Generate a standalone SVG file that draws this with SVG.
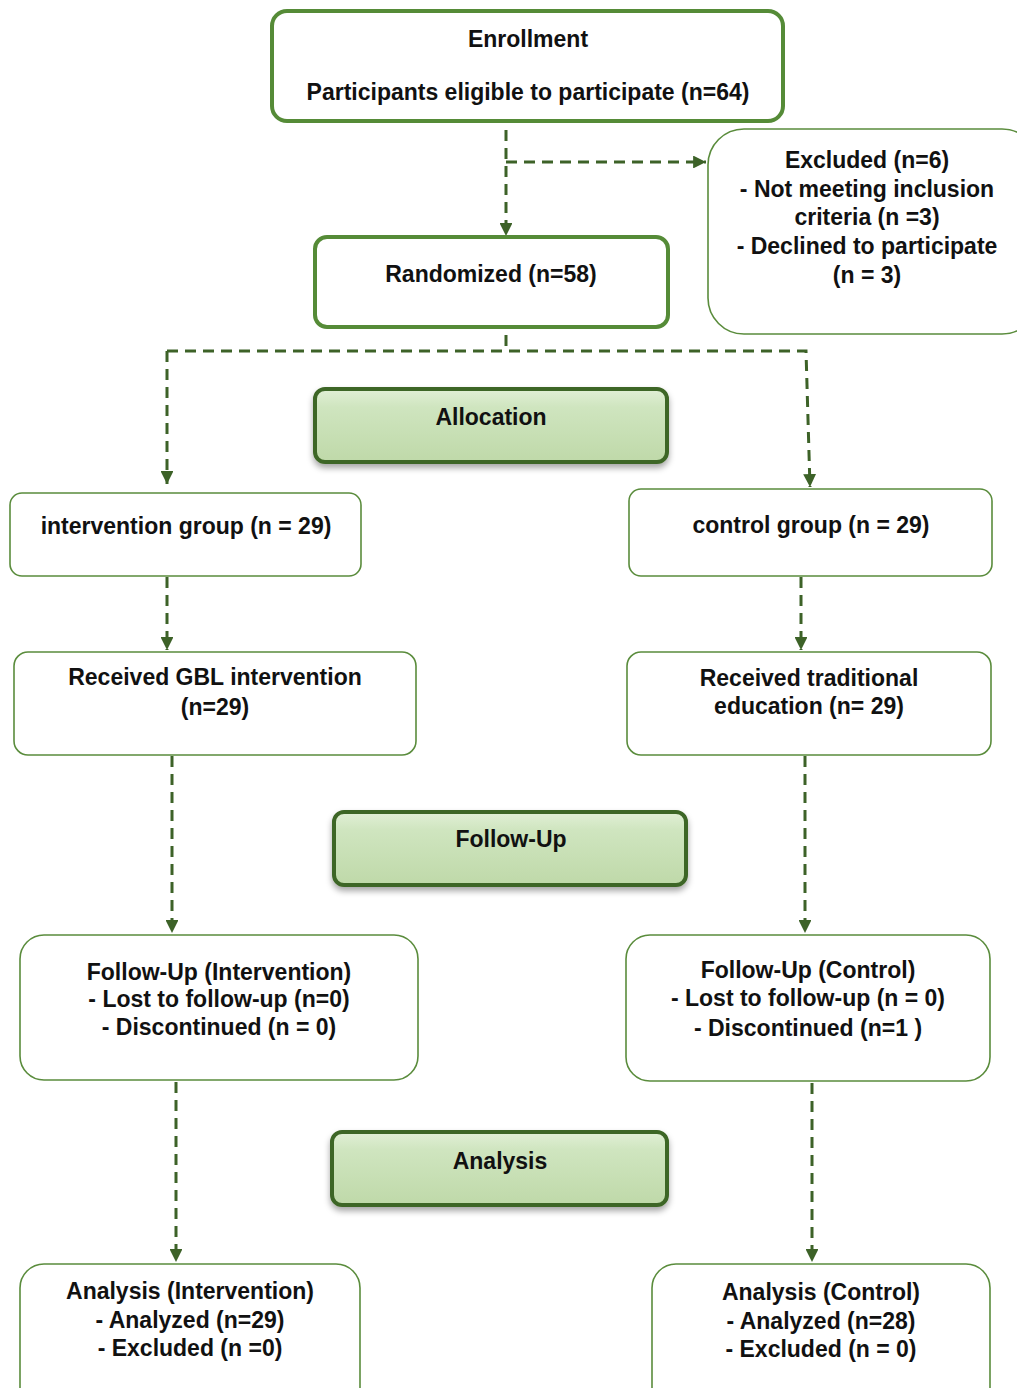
<svg xmlns="http://www.w3.org/2000/svg" width="1017" height="1388" viewBox="0 0 1017 1388">
<style>
text{font-family:"Liberation Sans",Arial,sans-serif;font-weight:bold;font-size:23px;fill:#111;text-anchor:middle}
.thick{fill:#fff;stroke:#558b37;stroke-width:4}
.thin{fill:#fff;stroke:#5a8c3c;stroke-width:1.6}
.phase{fill:url(#pg);stroke:#3e6626;stroke-width:4;filter:url(#sh)}
.conn{fill:none;stroke:#3d6228;stroke-width:3;stroke-dasharray:11 7}
</style>
<defs>
<linearGradient id="pg" x1="0" y1="0" x2="0" y2="1">
<stop offset="0" stop-color="#e1efd6"/>
<stop offset="0.25" stop-color="#cfe5bf"/>
<stop offset="1" stop-color="#bfd9a9"/>
</linearGradient>
<filter id="sh" x="-10%" y="-20%" width="120%" height="150%">
<feDropShadow dx="0" dy="4" stdDeviation="3" flood-color="#000" flood-opacity="0.35"/>
</filter>
<marker id="ah" viewBox="0 0 10 10" refX="10" refY="5" markerWidth="4.3" markerHeight="4.3" orient="auto" markerUnits="strokeWidth">
<path d="M0,0 L10,5 L0,10 z" fill="#3d6228"/>
</marker>
</defs>
<g id="connectors">
<path class="conn" d="M506,130 V236" marker-end="url(#ah)"/>
<path class="conn" d="M506,162 H706" marker-end="url(#ah)"/>
<path class="conn" d="M506,335 V351"/>
<path class="conn" d="M167,351 H806 L810,487" marker-end="url(#ah)"/>
<path class="conn" d="M167,351 V484" marker-end="url(#ah)"/>
<path class="conn" d="M167,577 V650" marker-end="url(#ah)"/>
<path class="conn" d="M801,577 V650" marker-end="url(#ah)"/>
<path class="conn" d="M172,756 V933" marker-end="url(#ah)"/>
<path class="conn" d="M805,756 V933" marker-end="url(#ah)"/>
<path class="conn" d="M176,1082 V1262" marker-end="url(#ah)"/>
<path class="conn" d="M812,1083 V1262" marker-end="url(#ah)"/>
</g>
<g id="enrollment">
<rect class="thick" x="272" y="11" width="511" height="110" rx="15"/>
<text x="528" y="47">Enrollment</text>
<text x="528" y="100">Participants eligible to participate (n=64)</text>
</g>
<g id="excluded">
<rect class="thin" x="708" y="129" width="330" height="205" rx="36"/>
<text x="867" y="168">Excluded (n=6)</text>
<text x="867" y="197">- Not meeting inclusion</text>
<text x="867" y="225">criteria (n =3)</text>
<text x="867" y="254">- Declined to participate</text>
<text x="867" y="283">(n = 3)</text>
</g>
<g id="randomized">
<rect class="thick" x="315" y="237" width="353" height="90" rx="12"/>
<text x="491" y="282">Randomized (n=58)</text>
</g>
<g id="allocation">
<rect class="phase" x="315" y="389" width="352" height="73" rx="10"/>
<text x="491" y="425">Allocation</text>
</g>
<g id="intervention-group">
<rect class="thin" x="10" y="493" width="351" height="83" rx="12"/>
<text x="186" y="534">intervention group (n = 29)</text>
</g>
<g id="control-group">
<rect class="thin" x="629" y="489" width="363" height="87" rx="12"/>
<text x="811" y="533">control group (n = 29)</text>
</g>
<g id="received-gbl">
<rect class="thin" x="14" y="652" width="402" height="103" rx="14"/>
<text x="215" y="685">Received GBL intervention</text>
<text x="215" y="715">(n=29)</text>
</g>
<g id="received-traditional">
<rect class="thin" x="627" y="652" width="364" height="103" rx="14"/>
<text x="809" y="686">Received traditional</text>
<text x="809" y="714">education (n= 29)</text>
</g>
<g id="follow-up">
<rect class="phase" x="334" y="812" width="352" height="73" rx="10"/>
<text x="511" y="847">Follow-Up</text>
</g>
<g id="followup-intervention">
<rect class="thin" x="20" y="935" width="398" height="145" rx="24"/>
<text x="219" y="980">Follow-Up (Intervention)</text>
<text x="219" y="1007">- Lost to follow-up (n=0)</text>
<text x="219" y="1035">- Discontinued (n = 0)</text>
</g>
<g id="followup-control">
<rect class="thin" x="626" y="935" width="364" height="146" rx="24"/>
<text x="808" y="978">Follow-Up (Control)</text>
<text x="808" y="1006">- Lost to follow-up (n = 0)</text>
<text x="808" y="1036">- Discontinued (n=1 )</text>
</g>
<g id="analysis">
<rect class="phase" x="332" y="1132" width="335" height="73" rx="10"/>
<text x="500" y="1169">Analysis</text>
</g>
<g id="analysis-intervention">
<rect class="thin" x="20" y="1264" width="340" height="150" rx="24"/>
<text x="190" y="1299">Analysis (Intervention)</text>
<text x="190" y="1328">- Analyzed (n=29)</text>
<text x="190" y="1356">- Excluded (n =0)</text>
</g>
<g id="analysis-control">
<rect class="thin" x="652" y="1264" width="338" height="150" rx="24"/>
<text x="821" y="1300">Analysis (Control)</text>
<text x="821" y="1329">- Analyzed (n=28)</text>
<text x="821" y="1357">- Excluded (n = 0)</text>
</g>
</svg>
